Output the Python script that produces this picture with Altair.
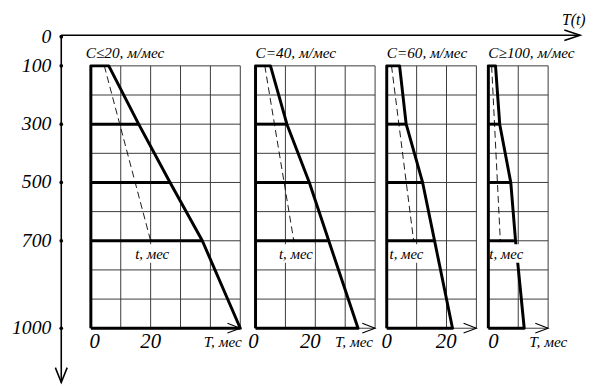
import altair as alt
import pandas as pd

# ---- data ----
panel_titles = ["C≤20, м/мес", "C=40, м/мес", "C=60, м/мес", "C≥100, м/мес"]
panel_width = [50, 40, 30, 20]          # months shown on each panel
panel_origin = [0.0, 55.1, 99.0, 133.0]  # panel zero on the common T axis
title_dx = [-1.7, 0.0, 0.0, 0.0]

depths = [100, 300, 500, 700, 1000]
T_values = [
    [6.0, 16.0, 26.5, 37.3, 50.0],
    [5.0, 10.5, 18.0, 24.5, 34.3],
    [4.3, 6.5, 12.0, 16.0, 22.0],
    [2.4, 3.8, 7.5, 9.1, 12.0],
]
t_depths = [100, 700]
t_values = [[4.5, 20.0], [3.1, 12.8], [1.6, 9.0], [1.1, 4.0]]

t_label_x = [20.5, 13.5, 6.6, 6.0]
zero_label_x = [1.3, -0.7, 0.0, 1.7]
twenty_label_x = [20.0, 18.3, 19.9, None]
T_label_right = [50.5, 39.3, None, 26.4]

y_ticks = [0, 100, 300, 500, 700, 1000]
grid_depths = list(range(100, 1001, 100))

X_DOM = [-9.9, 163.7]
Y_DOM = [-5, 1186]
FONT = "Liberation Serif"

# ---- tables ----
vgrid, hgrid, outline, hbold, dashed, ends = [], [], [], [], [], []
boxes, titles, tlabels, bottom, arrows = [], [], [], [], []
for p in range(4):
    o, W = panel_origin[p], panel_width[p]
    for k in range(W // 10 + 1):
        vgrid.append({"x": o + 10 * k, "y": 100, "y2": 1000})
    for d in grid_depths:
        hgrid.append({"x": o, "x2": o + W, "y": d})
    pts = [(0, 1000), (0, 100)] + list(zip(T_values[p], depths)) + [(0, 1000)]
    for i, (T, d) in enumerate(pts):
        outline.append({"p": p, "seq": i, "x": o + T, "y": d})
    for T, d in zip(T_values[p], depths):
        if d in (300, 500, 700):
            hbold.append({"x": o, "x2": o + T, "y": d})
    for i, (t, d) in enumerate(zip(t_values[p], t_depths)):
        dashed.append({"p": p, "seq": i, "x": o + t, "y": d})
    ends.append({"x": o + t_values[p][-1], "y": t_depths[-1]})
    cx = o + t_label_x[p]
    boxes.append({"x": max(o + 0.7, cx - 6.3), "x2": cx + 6.3, "y": 712, "y2": 775})
    tlabels.append({"x": cx, "y": 745, "label": "t, мес"})
    titles.append({"x": o + title_dx[p], "y": 56, "label": panel_titles[p]})
    bottom.append({"x": o + zero_label_x[p], "y": 1047, "label": "0"})
    if twenty_label_x[p] is not None:
        bottom.append({"x": o + twenty_label_x[p], "y": 1047, "label": "20"})
    arrows.append({"x": o + W, "y": 1000})

Tlab = [{"x": panel_origin[p] + T_label_right[p], "y": 1046, "label": "T, мес"}
        for p in range(4) if T_label_right[p] is not None]

xs = alt.Scale(domain=X_DOM, nice=False, zero=False)
ys = alt.Scale(domain=Y_DOM, reverse=True, nice=False, zero=False)


def X(f="x"):
    return alt.X(f"{f}:Q", scale=xs, axis=None)


def Y(f="y"):
    return alt.Y(f"{f}:Q", scale=ys, axis=None)


# main axes (depth axis on the left, T(t) axis on top)
axes_df = pd.DataFrame([
    {"x": X_DOM[0], "x2": X_DOM[0], "y": Y_DOM[0], "y2": Y_DOM[1]},
    {"x": X_DOM[0], "x2": X_DOM[1], "y": Y_DOM[0], "y2": Y_DOM[0]},
])
main_axes = alt.Chart(axes_df).mark_rule(color="black", strokeWidth=1.6).encode(
    x=X(), x2="x2:Q", y=Y(), y2="y2:Q"
)
ticks_df = pd.DataFrame({"x": [X_DOM[0]] * len(y_ticks), "y": y_ticks,
                         "label": [str(v) for v in y_ticks]})
tick_marks = alt.Chart(ticks_df).mark_circle(color="black", size=14, opacity=1).encode(
    x=X(), y=Y()
)
tick_labels = alt.Chart(ticks_df).mark_text(
    font=FONT, fontStyle="italic", fontSize=20, align="right", baseline="middle",
    dx=-10, color="black").encode(x=X(), y=Y(), text="label:N")

grid_v = alt.Chart(pd.DataFrame(vgrid)).mark_rule(color="#3a3a3a", strokeWidth=1).encode(
    x=X(), y=Y(), y2="y2:Q"
)
grid_h = alt.Chart(pd.DataFrame(hgrid)).mark_rule(color="#3a3a3a", strokeWidth=1).encode(
    x=X(), x2="x2:Q", y=Y()
)
bold_outline = alt.Chart(pd.DataFrame(outline)).mark_line(
    color="black", strokeWidth=3, strokeJoin="round").encode(
    x=X(), y=Y(), order="seq:Q", detail="p:N"
)
bold_h = alt.Chart(pd.DataFrame(hbold)).mark_rule(color="black", strokeWidth=3).encode(
    x=X(), x2="x2:Q", y=Y()
)
dash = alt.Chart(pd.DataFrame(dashed)).mark_line(
    color="black", strokeWidth=0.9, strokeDash=[7, 4]).encode(
    x=X(), y=Y(), order="seq:Q", detail="p:N"
)
dots = alt.Chart(pd.DataFrame(ends)).mark_circle(color="black", size=8, opacity=1).encode(
    x=X(), y=Y()
)
white = alt.Chart(pd.DataFrame(boxes)).mark_rect(color="white").encode(
    x=X(), x2="x2:Q", y=Y(), y2="y2:Q"
)
panel_arrows = alt.Chart(pd.DataFrame(arrows)).mark_point(
    shape="M-1,-0.38L0,0L-1,0.38", size=676, filled=False, color="black",
    strokeWidth=1.1, opacity=1).encode(x=X(), y=Y())
top_arrow = alt.Chart(pd.DataFrame([{"x": X_DOM[1], "y": Y_DOM[0]}])).mark_point(
    shape="M-1,-0.34L0,0L-1,0.34", size=1024, filled=False, color="black",
    strokeWidth=1.6, opacity=1).encode(x=X(), y=Y())
left_arrow = alt.Chart(pd.DataFrame([{"x": X_DOM[0], "y": Y_DOM[1]}])).mark_point(
    shape="M-0.4,-1L0,0L0.4,-1", size=900, filled=False, color="black",
    strokeWidth=1.6, opacity=1).encode(x=X(), y=Y())

title_txt = alt.Chart(pd.DataFrame(titles)).mark_text(
    font=FONT, fontStyle="italic", fontSize=15.5, align="left", baseline="middle",
    color="black").encode(x=X(), y=Y(), text="label:N")
t_txt = alt.Chart(pd.DataFrame(tlabels)).mark_text(
    font=FONT, fontStyle="italic", fontSize=15, align="center", baseline="middle",
    color="black").encode(x=X(), y=Y(), text="label:N")
bottom_txt = alt.Chart(pd.DataFrame(bottom)).mark_text(
    font=FONT, fontStyle="italic", fontSize=21, align="center", baseline="middle",
    color="black").encode(x=X(), y=Y(), text="label:N")
T_txt = alt.Chart(pd.DataFrame(Tlab)).mark_text(
    font=FONT, fontStyle="italic", fontSize=15.5, align="right", baseline="middle",
    color="black").encode(x=X(), y=Y(), text="label:N")
Tt_txt = alt.Chart(pd.DataFrame([{"x": 157.6, "y": -56, "label": "T(t)"}])).mark_text(
    font=FONT, fontStyle="italic", fontSize=16, align="left", baseline="middle",
    color="black").encode(x=X(), y=Y(), text="label:N")

chart = alt.layer(
    main_axes, tick_marks, tick_labels,
    grid_v, grid_h, bold_outline, bold_h, dash, dots, white, panel_arrows,
    top_arrow, left_arrow, title_txt, t_txt, bottom_txt, T_txt, Tt_txt,
).properties(
    width=526, height=352,
    autosize=alt.AutoSizeParams(type="none"),
    padding={"left": 54, "top": 25, "right": 8, "bottom": 3},
    background="white",
).configure_view(stroke=None)

chart.save("out.html", embed_options={"renderer": "svg", "actions": False})
